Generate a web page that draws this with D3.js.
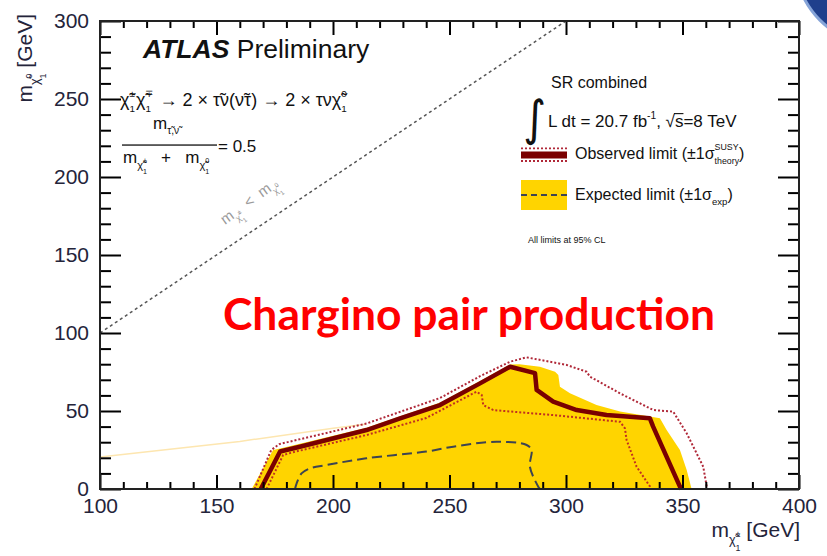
<!DOCTYPE html>
<html><head><meta charset="utf-8">
<script src="https://cdn.jsdelivr.net/npm/d3@7"></script>
<style>
html,body{margin:0;padding:0;background:#fff;}
svg{display:block;font-family:"Liberation Sans",Arial,sans-serif;}
text{white-space:pre;}
</style></head>
<body>
<svg id="c" width="827" height="556"></svg>
<script>
// ---------- data (m_chargino, m_neutralino) in GeV ----------
const xMajorTicks = [100,150,200,250,300,350,400];
const xTickLabels = ["100","150","200","250","300","350","400"];
const yMajorTicks = [0,50,100,150,200,250,300];
const yTickLabels = ["0","50","100","150","200","250","300"];
const xMinorTicks = d3.range(100,401,10).filter(v=>v%50!==0);
const yMinorTicks = d3.range(0,301,10).filter(v=>v%50!==0);

const kinematicLimit = [[100,100],[300,300]];
const faintEdge = [[100,20.5],[160,30.5],[200,39],[214,41.5]];

const expectedBand = [[165.1,0],[174.3,25],[177.3,26],[185.8,29],[214.4,39.3],[228.8,46.6],[245.9,55.3],[263.1,69.2],[276,79.8],[280,80],
  [288.8,78.4],[295.3,75.2],[296.7,73.1],[297.4,65.6],[301.7,61.3],[313.1,53.8],[323.2,49.6],[340.3,45.3],
  [343.2,37.8],[348.9,25],[351.8,12.2],[353.9,0]];
const expectedLimit = [[183.7,0],[184.4,3.6],[186.5,10],[190.1,13.2],[197.3,15.4],[214.4,19.7],[240,24],
  [251.6,27.1],[270.2,30.3],[283.1,28.2],[285.2,25],[284.5,14.3],[288.1,1.5],[288.8,0]];
const observedLimit = [[169,0],[177.3,24],[185.8,27.1],[214.4,37.8],[228.8,45.2],[245.9,53.8],[263.1,67.7],
  [276,78.4],[286.7,74.3],[287.4,63.5],[294.5,56],[304.6,50.6],[317.4,47.4],[336,45.3],[337.4,40],[348.9,1.5],[349.6,0]];
const observedUp = [[166.3,0],[173.5,25],[177,28.8],[214.4,42],[245.9,58.3],[263.1,72.3],[276,81.6],[283.1,84.4],
  [300.3,79.5],[308.8,75.2],[310.3,72],[323.2,61.3],[337.5,50.6],[346,49.6],[351.8,35.7],[358.9,14.3],[360.4,1.5],[360.6,0]];
const observedDown = [[171.5,0],[178.6,21.8],[184,24],[214.4,34.6],[240,45.5],[260.2,61.3],[261.6,62.4],[263.8,60.3],
  [264.5,53.8],[268.8,50.6],[294.5,47.4],[323.2,43.1],[325.3,38.9],[326,31.4],[330.3,14.3],[336.1,1.5],[336.3,0]];

// ---------- setup ----------
const svg = d3.select("#c");
const W = 827, H = 556;
const x = d3.scaleLinear([100,400],[100,799]);
const y = d3.scaleLinear([0,300],[489,21]);
const lineGen = d3.line().x(d=>x(d[0])).y(d=>y(d[1]));
const smoothGen = d3.line().x(d=>x(d[0])).y(d=>y(d[1])).curve(d3.curveCatmullRom);
const labelColor = "#24243a";
const axisColor = "#000";

svg.append("rect").attr("width",W).attr("height",H).attr("fill","#fff");

// blue decoration top-right
svg.append("circle").attr("cx",880).attr("cy",-40).attr("r",85)
  .attr("fill","#1f3f8c").attr("stroke","#86a4d8").attr("stroke-width",3);

const plot = svg.append("g");
plot.append("path").attr("d",lineGen(faintEdge)).attr("fill","none").attr("stroke","#fde6b0").attr("stroke-width",1.5);
plot.append("path").attr("d",lineGen(expectedBand)+"Z").attr("fill","#ffd400");
plot.append("path").attr("d",smoothGen(expectedLimit)).attr("fill","none")
  .attr("stroke","#3d4452").attr("stroke-width",2).attr("stroke-dasharray","10,5");
plot.append("path").attr("d",lineGen(observedUp)).attr("fill","none")
  .attr("stroke","#b02838").attr("stroke-width",2).attr("stroke-dasharray","2,2");
plot.append("path").attr("d",lineGen(observedDown)).attr("fill","none")
  .attr("stroke","#c03020").attr("stroke-width",2).attr("stroke-dasharray","2,2");
plot.append("path").attr("d",lineGen(observedLimit)).attr("fill","none")
  .attr("stroke","#7a0000").attr("stroke-width",4.5).attr("stroke-linejoin","round");
plot.append("path").attr("d",lineGen(kinematicLimit)).attr("fill","none")
  .attr("stroke","#555").attr("stroke-width",1.5).attr("stroke-dasharray","3,3");

// ---------- axes (d3 axes, ticks pointing inward on all four sides) ----------
function styleAxis(g){
  g.select(".domain").remove();
  g.selectAll(".tick line").attr("stroke","#000").attr("stroke-width",2);
  g.selectAll("text").attr("fill",labelColor).attr("font-size",21).attr("font-family","Liberation Sans, Arial, sans-serif");
}
const fmtX = d => xTickLabels[xMajorTicks.indexOf(d)];
const fmtY = d => yTickLabels[yMajorTicks.indexOf(d)];
const blank = () => "";
svg.append("g").attr("transform",`translate(0,${y(0)})`)
  .call(d3.axisBottom(x).tickValues(xMajorTicks).tickSize(-14).tickPadding(9).tickFormat(fmtX)).call(styleAxis);
svg.append("g").attr("transform",`translate(0,${y(0)})`)
  .call(d3.axisBottom(x).tickValues(xMinorTicks).tickSize(-7).tickFormat(blank)).call(styleAxis);
svg.append("g").attr("transform",`translate(0,${y(300)})`)
  .call(d3.axisTop(x).tickValues(xMajorTicks).tickSize(-14).tickFormat(blank)).call(styleAxis);
svg.append("g").attr("transform",`translate(0,${y(300)})`)
  .call(d3.axisTop(x).tickValues(xMinorTicks).tickSize(-7).tickFormat(blank)).call(styleAxis);
svg.append("g").attr("transform",`translate(${x(100)},0)`)
  .call(d3.axisLeft(y).tickValues(yMajorTicks).tickSize(-21).tickPadding(11).tickFormat(fmtY)).call(styleAxis);
svg.append("g").attr("transform",`translate(${x(100)},0)`)
  .call(d3.axisLeft(y).tickValues(yMinorTicks).tickSize(-11).tickFormat(blank)).call(styleAxis);
svg.append("g").attr("transform",`translate(${x(400)},0)`)
  .call(d3.axisRight(y).tickValues(yMajorTicks).tickSize(-21).tickFormat(blank)).call(styleAxis);
svg.append("g").attr("transform",`translate(${x(400)},0)`)
  .call(d3.axisRight(y).tickValues(yMinorTicks).tickSize(-11).tickFormat(blank)).call(styleAxis);
svg.append("rect").attr("x",x(100)).attr("y",y(300)).attr("width",x(400)-x(100)).attr("height",y(0)-y(300))
  .attr("fill","none").attr("stroke","#222").attr("stroke-width",2);

// ---------- rich text helper ----------
function rich(g, x0, y0, size, segs, fill){
  let cx = x0;
  for (const seg of segs){
    const parts = seg.stack || [seg];
    let w = 0;
    for (const p of parts){
      const fs = (p.s||1)*size;
      const t = g.append("text").attr("x",cx).attr("y",y0+(p.dy||0)*size)
        .attr("font-size",fs).attr("fill",fill||"#111").text(p.t);
      const lw = t.node().getComputedTextLength();
      if (p.over){
        g.append("rect").attr("x",cx-1).attr("width",lw+1).attr("y",y0+(p.dy||0)*size-fs*0.82)
          .attr("height",1.1).attr("fill",fill||"#111");
      }
      w = Math.max(w, lw);
    }
    cx += w + (seg.gap||0);
  }
  return cx - x0;
}
const chi = "χ̃";
const ss = (a,b,s,up,dn,gap)=>({gap:gap||0,stack:[{t:a,s:s||0.6,dy:up===undefined?-0.45:up},{t:b,s:s||0.6,dy:dn===undefined?0.32:dn}]});

// ATLAS label
const at = svg.append("text").attr("x",143).attr("y",58).attr("font-size",26.5).attr("fill","#111");
at.append("tspan").attr("font-weight","bold").attr("font-style","italic").text("ATLAS");
at.append("tspan").text(" Preliminary");

// process
const tg = svg.append("g");
rich(tg,120,106,18,[{t:chi},ss("±","1",0.55,-0.5,0.32,1),{t:chi},ss("∓","1",0.55,-0.5,0.32,1),
  {t:" → 2 × τ̃ν(ν̃τ) → 2 × τν"+chi},ss("0","1",0.55,-0.5,0.32)]);
// fraction
rich(tg,153,129,17,[{t:"m"},{t:"τ̃,ν̃",s:0.6,dy:0.3}]);
tg.append("rect").attr("x",122).attr("width",95).attr("y",144.4).attr("height",1.3).attr("fill","#111");
rich(tg,123,163,17,[{t:"m"},{t:chi,s:0.65,dy:0.35},ss("±","1",0.42,0.0,0.65),{t:"   +   m"},{t:chi,s:0.65,dy:0.35},ss("0","1",0.42,0.0,0.65)]);
rich(tg,218,152,17,[{t:"= 0.5"}]);

// kinematic label
const kg = svg.append("g").attr("transform","translate(225,225) rotate(-36)");
rich(kg,0,0,15,[{t:"m"},{t:chi,s:0.6,dy:0.35},ss("±","1",0.42,0.0,0.65),{t:"  <  m"},{t:chi,s:0.6,dy:0.35},ss("0","1",0.42,0.0,0.65)],"#9a9a9a");

// legend
const lg = svg.append("g");
rich(lg,551,88,16,[{t:"SR combined"}]);
lg.append("text").attr("x",523).attr("y",135).attr("font-size",44).attr("font-family","DejaVu Sans")
  .attr("fill","#111").attr("transform","translate(0,-13) scale(1,1.1)").text("∫");
rich(lg,548,127,17,[{t:"L dt = 20.7 fb"},{t:"-1",s:0.6,dy:-0.45},{t:", √"},{t:"s",over:true},{t:"=8 TeV"}]);
lg.append("path").attr("d","M521,148.3H567").attr("stroke","#b02838").attr("stroke-width",1.8).attr("stroke-dasharray","2,2");
lg.append("path").attr("d","M521,155H567").attr("stroke","#7a0000").attr("stroke-width",7);
lg.append("path").attr("d","M521,161H567").attr("stroke","#b02838").attr("stroke-width",1.8).attr("stroke-dasharray","2,2");
rich(lg,575,159,16,[{t:"Observed limit (±1σ"},{stack:[{t:"SUSY",s:0.55,dy:-0.55},{t:"theory",s:0.55,dy:0.32}]},{t:")"}]);
lg.append("rect").attr("x",521).attr("y",180).attr("width",46).attr("height",30).attr("fill","#ffd400");
lg.append("path").attr("d","M521,195H567").attr("stroke","#3d4452").attr("stroke-width",1.8).attr("stroke-dasharray","6,4");
rich(lg,575,200,16,[{t:"Expected limit (±1σ"},{t:"exp",s:0.6,dy:0.3},{t:")"}]);
rich(lg,528,243,9,[{t:"All limits at 95% CL"}]);

// axis titles
const xt = svg.append("g");
const xw = rich(xt,0,0,21,[{t:"m"},{t:chi,s:0.6,dy:0.35},ss("±","1",0.42,0.0,0.65),{t:" [GeV]"}],labelColor);
xt.attr("transform",`translate(${800-xw},537)`);
const yt = svg.append("g");
const yw = rich(yt,0,0,21,[{t:"m"},{t:chi,s:0.6,dy:0.35},ss("0","1",0.42,0.0,0.65),{t:" [GeV]"}],labelColor);
yt.attr("transform",`translate(32,${14+yw}) rotate(-90)`);

// red annotation
svg.append("text").attr("x",223).attr("y",330).attr("font-family","Lato, 'Open Sans', sans-serif")
  .attr("font-weight","bold").attr("font-size",43).attr("fill","#ff0000")
  .attr("textLength",492).attr("lengthAdjust","spacingAndGlyphs").text("Chargino pair production");
</script>
</body></html>
